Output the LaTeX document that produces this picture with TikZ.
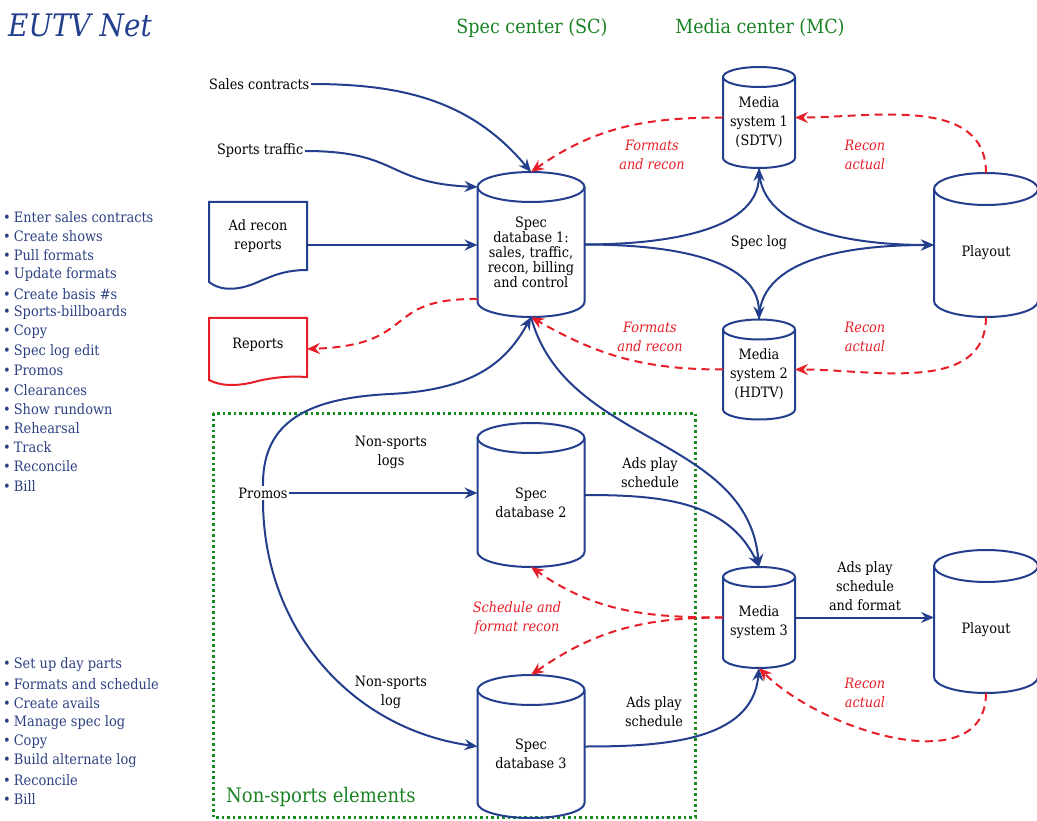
\documentclass[tikz,border=0pt]{standalone}
\usepackage{fontspec}
\setmainfont{DejaVu Serif Condensed}
\usetikzlibrary{arrows.meta}
\definecolor{eublue}{RGB}{35,62,140}
\definecolor{eured}{RGB}{230,30,40}
\definecolor{eugreen}{RGB}{25,130,35}
\definecolor{listblue}{RGB}{45,65,130}
\definecolor{boxgreen}{RGB}{20,140,30}

% cylinder: name, x, y, x radius, half height, ellipse radius, text
\newcommand{\storage}[7]{%
  \node[cylbox, minimum width=2*#4, minimum height=2*#5] (#1) at (#2,#3) {};
  \draw[dbline] ([yshift=-#6pt]#1.north) ellipse [x radius=#4pt, y radius=#6pt];
  \draw[dbline] ([yshift=-#6pt]#1.north west) -- ([yshift=#6pt]#1.south west)
    arc[start angle=180, end angle=360, x radius=#4pt, y radius=#6pt]
    -- ([yshift=-#6pt]#1.north east);
  \node[lbl] (#1-t) at ([yshift=-0.5*#6pt]#1.center) {#7};
}

\begin{document}
\begin{tikzpicture}[x=1pt, y=1pt,
    lbl/.style={font=\fontsize{14.3}{19}\selectfont, align=center, inner sep=1.5pt},
    note/.style={lbl, text=eured, font=\fontsize{14.3}{19}\selectfont\itshape},
    item/.style={anchor=west, inner sep=0pt, text=listblue, font=\fontsize{14.4}{15}\selectfont},
    cylbox/.style={rectangle, inner sep=0pt, outer sep=0pt, draw=none},
    dbline/.style={draw=eublue, line width=2pt},
    flow/.style={draw=eublue, line width=2pt, -{Stealth[length=13pt, width=11pt, inset=4.5pt]}},
    recon/.style={draw=eured, line width=2pt, dash pattern=on 8pt off 5.5pt,
                  -{Stealth[length=13pt, width=11pt, inset=4.5pt]}}]
  \useasboundingbox (0,0) rectangle (1037,-821);

  % Titles
  \node[anchor=west, inner sep=0pt, text=eublue, font=\fontsize{31}{36}\selectfont\itshape] (title) at (8,-25) {EUTV Net};
  \node[text=eugreen, font=\fontsize{19.5}{22}\selectfont] (sc) at (532,-28) {Spec center (SC)};
  \node[text=eugreen, font=\fontsize{19.5}{22}\selectfont] (mc) at (760,-28) {Media center (MC)};

  % Task lists
  \foreach \t [count=\i] in {Enter sales contracts, Create shows, Pull formats, Update formats,
      Create basis \#s, Sports-billboards, Copy, Spec log edit, Promos, Clearances,
      Show rundown, Rehearsal, Track, Reconcile, Bill}
    \node[item] (sc-\i) at (3,-217-19.2*\i+19.2) {\textbullet\hspace{3pt}\t};
  \foreach \t [count=\i] in {Set up day parts, Formats and schedule, Create avails, Manage spec log,
      Copy, Build alternate log, Reconcile, Bill}
    \node[item] (ns-\i) at (3,-665-19.15*\i+19.15) {\textbullet\hspace{3pt}\t};

  % Non-sports area
  \draw[boxgreen, line width=3pt, dash pattern=on 2.5pt off 3pt] (213,-413) rectangle (695,-817);
  \node[anchor=west, inner sep=0pt, text=eugreen, font=\fontsize{20}{22}\selectfont] (nselem) at (226,-797) {Non-sports elements};

  % Databases and media systems
  \storage{db1}{531}{-244.5}{53.5}{72.5}{15}{Spec\\[-4pt]database 1:\\[-4pt]sales, traffic,\\[-4pt]recon, billing\\[-4pt]and control}
  \storage{db2}{531}{-495}{53.5}{72}{15}{Spec\\database 2}
  \storage{db3}{531}{-746.5}{53.5}{71.5}{15}{Spec\\database 3}
  \storage{ms1}{759}{-117.5}{36}{50.5}{10}{Media\\system 1\\(SDTV)}
  \storage{ms2}{759}{-369.5}{36}{50}{10}{Media\\system 2\\(HDTV)}
  \storage{ms3}{759}{-617.5}{36}{50.5}{10}{Media\\system 3}
  \storage{pl1}{986}{-245}{52}{72}{16}{Playout}
  \storage{pl2}{986}{-621.5}{52}{71.5}{16}{Playout}

  % Reports
  \node[cylbox, minimum width=98, minimum height=86] (adrec) at (258,-245) {};
  \draw[eublue, line width=2pt] (209,-282) -- (209,-202) -- (307,-202) -- (307,-270)
    .. controls (285,-270) and (272,-276) .. (258,-282) .. controls (240,-290) and (222,-292) .. cycle;
  \node[lbl] (adrec-t) at (258,-236) {Ad recon\\reports};
  \node[cylbox, minimum width=98, minimum height=62] (reports) at (258,-349) {};
  \draw[eured, line width=2pt] (209,-380) -- (209,-318) -- (307,-318) -- (307,-377)
    .. controls (290,-376) and (275,-377) .. (258,-381) .. controls (240,-386) and (222,-387) .. cycle;
  \node[lbl] (reports-t) at (258,-345) {Reports};

  % Inputs
  \node[lbl, anchor=east] (sales) at (311,-84) {Sales contracts};
  \node[lbl, anchor=east] (sports) at (305,-151) {Sports traffic};
  \node[lbl] (promos) at (263,-493) {Promos};

  \draw[flow] (sales.east) to[out=0, in=130] (db1.north);
  \draw[flow] (sports.east) .. controls (400,-151) and (385,-183) .. ([yshift=-15pt]db1.north west);
  \draw[flow] (adrec.east) -- (adrec.east -| db1.west);

  % Spec log
  \draw[flow] (db1.east) to[out=0, in=-90, looseness=0.9] (ms1.south);
  \draw[flow] (db1.east) to[out=0, in=90, looseness=0.9] (ms2.north);
  \draw[flow] (ms1.south) to[out=-90, in=180, looseness=0.9] (pl1.west);
  \draw[flow] (ms2.north) to[out=90, in=180, looseness=0.9] (pl1.west);
  \node[lbl] (speclog) at (759,-243) {Spec log};

  % Recon loops
  \draw[recon] (pl1.north) to[out=90, in=0] (ms1.east);
  \draw[recon] (ms1.west) to[out=180, in=35] (db1.north);
  \draw[recon] (pl1.south) to[out=-90, in=0] (ms2.east);
  \draw[recon] (ms2.west) to[out=180, in=-30] (db1.south);
  \draw[recon] ([yshift=18pt]db1.south west) .. controls (380,-298) and (420,-345) .. (reports.east);
  \node[note] (fmt1) at (652,-154.5) {Formats\\and recon};
  \node[note] (rec1) at (865,-154.5) {Recon\\actual};
  \node[note] (fmt2) at (650,-336.5) {Formats\\and recon};
  \node[note] (rec2) at (865,-336.5) {Recon\\actual};

  % Non-sports logs
  \draw[flow] (promos.north) .. controls (262,-420) and (310,-398) .. (390,-394)
    .. controls (470,-390) and (505,-365) .. (db1.south);
  \draw[flow] (promos.east) -- (promos.east -| db2.west);
  \draw[flow] (promos.south) to[out=-90, in=172] (db3.west);
  \node[lbl] (nslogs) at (391,-452.5) {Non-sports\\logs};
  \node[lbl] (nslog) at (391,-692.5) {Non-sports\\log};

  % Ads play schedules
  \draw[flow] (db1.south) to[out=-75, in=95] (ms3.north);
  \draw[flow] (db2.east) to[out=0, in=115] (ms3.north);
  \draw[flow] (db3.east) to[out=0, in=-95] (ms3.south);
  \draw[flow] (ms3.east) -- (ms3.east -| pl2.west);
  \node[lbl] (ads1) at (650,-472.5) {Ads play\\schedule};
  \node[lbl] (ads2) at (654,-711.5) {Ads play\\schedule};
  \node[lbl] (ads3) at (865,-586) {Ads play\\schedule\\and format};

  \draw[recon] (ms3.west) to[out=180, in=-35] (db2.south);
  \draw[recon] (ms3.west) to[out=180, in=35] (db3.north);
  \draw[recon] (pl2.south) to[out=-90, in=-45] (ms3.south);
  \node[note] (schrec) at (517,-618.5) {Schedule and\\format recon};
  \node[note] (rec3) at (865,-692.5) {Recon\\actual};
\end{tikzpicture}
\end{document}
